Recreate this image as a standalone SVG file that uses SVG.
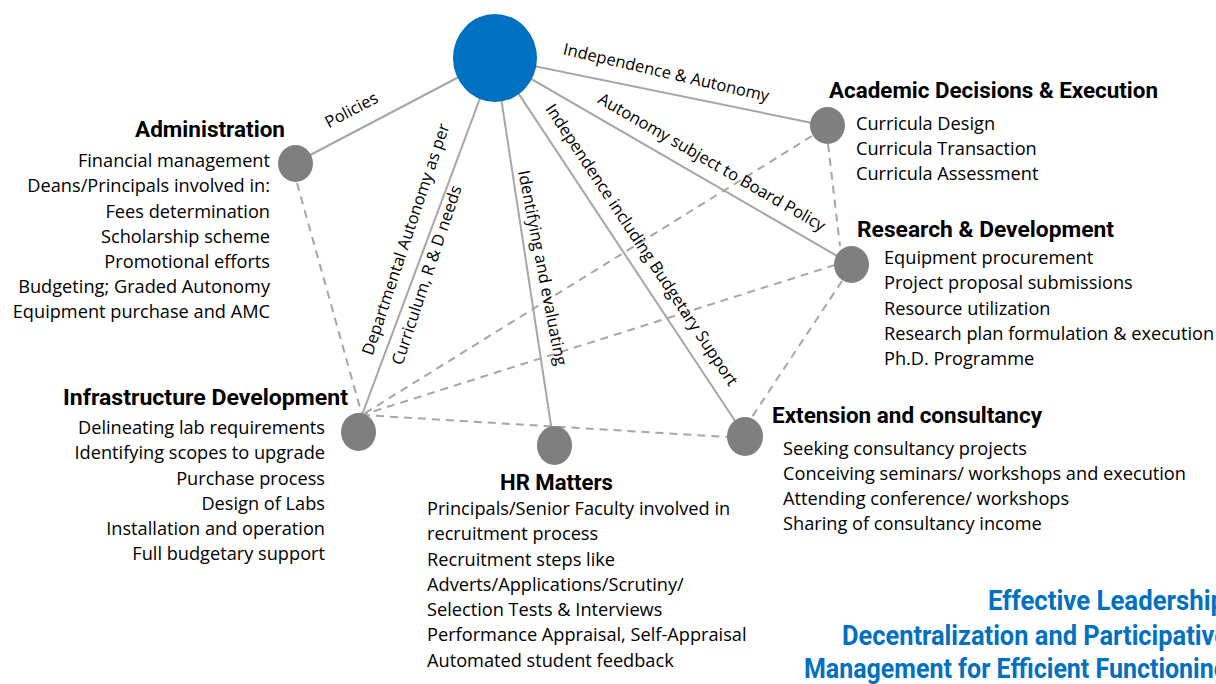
<svg xmlns="http://www.w3.org/2000/svg" width="1216" height="684" viewBox="0 0 1216 684">
<style>
.solid{stroke:#A6A6A6;stroke-width:2;fill:none}
.dash{stroke:#A6A6A6;stroke-width:2;fill:none;stroke-dasharray:8 6}
.node{fill:#7F7F7F}
.hub{fill:#0070C0}
.h{font-family:Roboto,"Liberation Sans",sans-serif;font-weight:bold;font-size:22px;fill:#000}
.b{font-family:"Open Sans","Liberation Sans",sans-serif;font-size:18.2px;fill:#000}
.l{font-family:"Open Sans","Liberation Sans",sans-serif;font-size:16.5px;fill:#000;text-anchor:middle}
.r{text-anchor:end}
.t{font-family:Roboto,"Liberation Sans",sans-serif;font-weight:bold;font-size:27px;fill:#0070C0}
</style>
<rect width="1216" height="684" fill="#fff"/>
<g id="connectors">
<line class="dash" x1="297" y1="183" x2="362" y2="415"/>
<line class="dash" x1="828" y1="144" x2="840" y2="246"/>
<line class="dash" x1="812" y1="136" x2="362" y2="415"/>
<line class="dash" x1="835" y1="265" x2="362" y2="415"/>
<line class="dash" x1="842" y1="281" x2="750" y2="420"/>
<line class="dash" x1="362" y1="415" x2="728" y2="437"/>
<line class="solid" x1="495" y1="58" x2="295" y2="163"/>
<line class="solid" x1="495" y1="58" x2="827" y2="126"/>
<line class="solid" x1="495" y1="58" x2="851" y2="264"/>
<line class="solid" x1="495" y1="58" x2="362" y2="415"/>
<line class="solid" x1="495" y1="58" x2="554" y2="445"/>
<line class="solid" x1="495" y1="58" x2="745" y2="436"/>
<text class="l" transform="translate(354,115) rotate(-28)">Policies</text>
<text class="l" transform="translate(665,78) rotate(13)">Independence &amp; Autonomy</text>
<text class="l" transform="translate(709,167) rotate(30)">Autonomy subject to Board Policy</text>
<text class="l" transform="translate(637,248) rotate(56.5)">Independence including Budgetary Support</text>
<text class="l" transform="translate(537,269) rotate(79)">Identifying and evaluating</text>
<text class="l" transform="translate(411,241) rotate(-71.5)">Departmental Autonomy as per</text>
<text class="l" transform="translate(432,277) rotate(-71.5)">Curriculum, R &amp; D needs</text>
</g>
<g id="hub"><ellipse class="hub" cx="495" cy="58" rx="42" ry="44"/></g>
<g id="administration">
<ellipse class="node" cx="295.5" cy="163.5" rx="17.5" ry="18.5"/>
<text class="h r" x="285" y="137" textLength="150" lengthAdjust="spacingAndGlyphs">Administration</text>
<text class="b r" x="270" y="167">Financial management</text>
<text class="b r" x="270" y="192">Deans/Principals involved in:</text>
<text class="b r" x="270" y="217.5">Fees determination</text>
<text class="b r" x="270" y="242.7">Scholarship scheme</text>
<text class="b r" x="270" y="268">Promotional efforts</text>
<text class="b r" x="270" y="293.2">Budgeting; Graded Autonomy</text>
<text class="b r" x="270" y="318.4">Equipment purchase and AMC</text>
</g>
<g id="academic">
<ellipse class="node" cx="827.5" cy="125.5" rx="17.5" ry="18.5"/>
<text class="h" x="829" y="98" textLength="329" lengthAdjust="spacingAndGlyphs">Academic Decisions &amp; Execution</text>
<text class="b" x="856" y="130">Curricula Design</text>
<text class="b" x="856" y="155">Curricula Transaction</text>
<text class="b" x="856" y="180">Curricula Assessment</text>
</g>
<g id="research">
<ellipse class="node" cx="851.5" cy="264.5" rx="17.5" ry="18.5"/>
<text class="h" x="857" y="237" textLength="257" lengthAdjust="spacingAndGlyphs">Research &amp; Development</text>
<text class="b" x="884" y="264">Equipment procurement</text>
<text class="b" x="884" y="289.3">Project proposal submissions</text>
<text class="b" x="884" y="314.5">Resource utilization</text>
<text class="b" x="884" y="339.8">Research plan formulation &amp; execution</text>
<text class="b" x="884" y="365">Ph.D. Programme</text>
</g>
<g id="infrastructure">
<ellipse class="node" cx="358.5" cy="432" rx="17.5" ry="19"/>
<text class="h r" x="348" y="405" textLength="285" lengthAdjust="spacingAndGlyphs">Infrastructure Development</text>
<text class="b r" x="325" y="434">Delineating lab requirements</text>
<text class="b r" x="325" y="459.3">Identifying scopes to upgrade</text>
<text class="b r" x="325" y="484.5">Purchase process</text>
<text class="b r" x="325" y="509.8">Design of Labs</text>
<text class="b r" x="325" y="535">Installation and operation</text>
<text class="b r" x="325" y="560.3">Full budgetary support</text>
</g>
<g id="hr">
<ellipse class="node" cx="554.5" cy="445.5" rx="17.5" ry="19.5"/>
<text class="h" x="500" y="490" textLength="113" lengthAdjust="spacingAndGlyphs">HR Matters</text>
<text class="b" x="427" y="515">Principals/Senior Faculty involved in</text>
<text class="b" x="427" y="540.3">recruitment process</text>
<text class="b" x="427" y="565.5">Recruitment steps like</text>
<text class="b" x="427" y="590.8">Adverts/Applications/Scrutiny/</text>
<text class="b" x="427" y="616">Selection Tests &amp; Interviews</text>
<text class="b" x="427" y="641.3">Performance Appraisal, Self-Appraisal</text>
<text class="b" x="427" y="666.5">Automated student feedback</text>
</g>
<g id="extension">
<ellipse class="node" cx="745" cy="436.5" rx="18" ry="19.5"/>
<text class="h" x="772" y="423" textLength="270" lengthAdjust="spacingAndGlyphs">Extension and consultancy</text>
<text class="b" x="783" y="455">Seeking consultancy projects</text>
<text class="b" x="783" y="480">Conceiving seminars/ workshops and execution</text>
<text class="b" x="783" y="505">Attending conference/ workshops</text>
<text class="b" x="783" y="530">Sharing of consultancy income</text>
</g>
<g id="title">
<text class="t" x="988" y="610" textLength="237" lengthAdjust="spacingAndGlyphs">Effective Leadership</text>
<text class="t" x="842" y="645" textLength="386" lengthAdjust="spacingAndGlyphs">Decentralization and Participative</text>
<text class="t" x="804" y="678" textLength="424" lengthAdjust="spacingAndGlyphs">Management for Efficient Functioning</text>
</g>
</svg>
